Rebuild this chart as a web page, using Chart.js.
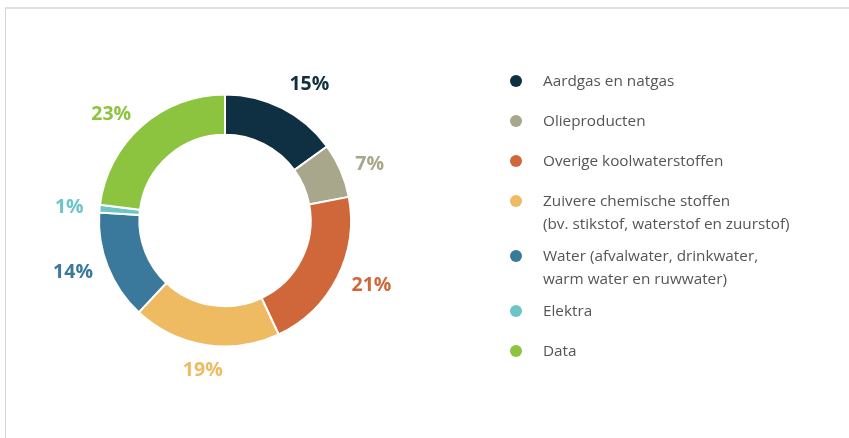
<!DOCTYPE html>
<html>
<head>
<meta charset="utf-8">
<script src="https://cdn.jsdelivr.net/npm/chart.js@4/dist/chart.umd.min.js"></script>
<style>
  html, body { margin: 0; padding: 0; background: #fff; }
  #wrap { position: relative; width: 849px; height: 438px; overflow: hidden; }
  #frame { position: absolute; left: 5px; top: 7px; right: -4px; bottom: -4px; border-left: 1px solid #d6d6d6; border-top: 2px solid #e0e0e0; }
  #chart { position: absolute; left: 0; top: 0; }
  #legend { position: absolute; left: 510px; top: 69px; margin: 0; padding: 0; list-style: none;
    font-family: 'Open Sans', sans-serif; font-size: 15.3px; line-height: 23px; color: #555; }
  #legend li { position: relative; padding-left: 33px; margin-bottom: 17px; }
  #legend li.multi { margin-bottom: 9px; }
  #legend li span.dot { position: absolute; left: 0; top: 6px; width: 12px; height: 12px; border-radius: 50%; }
</style>
</head>
<body>
<div id="wrap">
  <div id="frame"></div>
  <canvas id="chart" width="849" height="438"></canvas>
  <ul id="legend"></ul>
</div>
<script>
const categories = [
  'Aardgas en natgas',
  'Olieproducten',
  'Overige koolwaterstoffen',
  'Zuivere chemische stoffen\n(bv. stikstof, waterstof en zuurstof)',
  'Water (afvalwater, drinkwater,\nwarm water en ruwwater)',
  'Elektra',
  'Data',
];
const shares = [15, 7, 21, 19, 14, 1, 23];
const colors = ['#0f3042', '#a8a78b', '#d0673a', '#eeba62', '#3a799b', '#6dc5c8', '#8cc43f'];

const legend = document.getElementById('legend');
legend.innerHTML = categories
  .map((c, i) => {
    const multi = c.includes('\n');
    return `<li class="${multi ? 'multi' : ''}"><span class="dot" style="background:${colors[i]}"></span>${c.replace('\n', '<br>')}</li>`;
  })
  .join('');

// percentage labels outside each slice, aligned away from the ring
const outerLabels = {
  id: 'outerLabels',
  afterDatasetsDraw(chart) {
    const ctx = chart.ctx;
    const meta = chart.getDatasetMeta(0);
    ctx.save();
    ctx.font = 'bold 19.5px "Open Sans", sans-serif';
    meta.data.forEach((arc, i) => {
      const p = arc.getProps(['x', 'y', 'startAngle', 'endAngle', 'outerRadius'], true);
      const mid = (p.startAngle + p.endAngle) / 2;
      const cos = Math.cos(mid);
      const sin = Math.sin(mid);
      const r = p.outerRadius + 16;
      ctx.textAlign = cos > 0.3 ? 'left' : cos < -0.3 ? 'right' : 'center';
      ctx.textBaseline = sin > 0.8 ? 'top' : sin < -0.8 ? 'bottom' : 'middle';
      ctx.fillStyle = colors[i];
      ctx.fillText(shares[i] + '%', p.x + cos * r, p.y + sin * r);
    });
    ctx.restore();
  },
};

new Chart(document.getElementById('chart'), {
  type: 'doughnut',
  data: {
    labels: categories,
    datasets: [{
      data: shares,
      backgroundColor: colors,
      borderColor: '#fff',
      borderWidth: 2,
    }],
  },
  options: {
    responsive: false,
    animation: false,
    cutout: '68%',
    layout: { padding: { left: 98, right: 497, top: 93, bottom: 90 } },
    plugins: { legend: { display: false }, tooltip: { enabled: false } },
  },
  plugins: [outerLabels],
});
</script>
</body>
</html>
